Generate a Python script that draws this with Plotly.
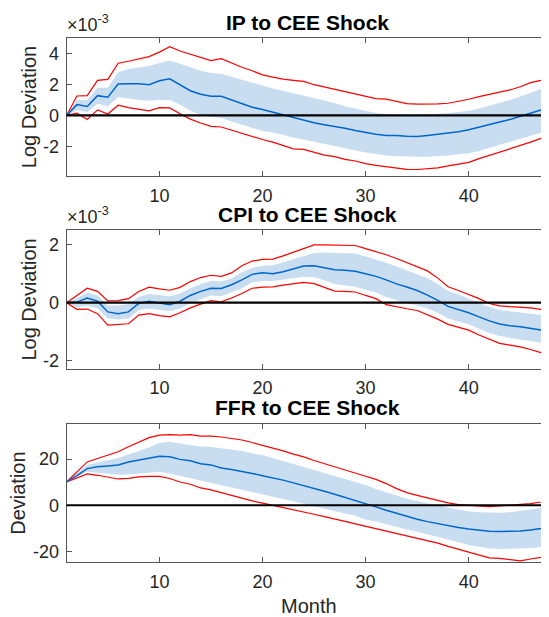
import plotly.graph_objects as go

months = list(range(1, 49))

# ---- IP to CEE shock (x 1e-3) ----
ip_med = [0, 0.7, 0.58, 1.28, 1.18, 2.03, 2.05, 2.05, 1.99, 2.25, 2.37, 1.97, 1.6, 1.37, 1.24, 1.24,
          1.0, 0.75, 0.53, 0.39, 0.21, 0.02, -0.15, -0.3, -0.47, -0.6, -0.7, -0.83, -0.98, -1.11, -1.22, -1.3,
          -1.3, -1.35, -1.37, -1.3, -1.22, -1.13, -1.05, -0.92, -0.77, -0.6, -0.43, -0.26, -0.06, 0.13, 0.36, 0.6]
ip_hi90 = [0, 1.26, 1.28, 2.27, 2.33, 3.38, 3.51, 3.66, 3.81, 4.1, 4.45, 4.17, 3.96, 3.72, 3.55, 3.68,
           3.38, 3.12, 2.89, 2.63, 2.48, 2.35, 2.27, 2.2, 1.99, 1.84, 1.69, 1.52, 1.39, 1.22, 1.09, 1.05,
           0.92, 0.77, 0.73, 0.73, 0.75, 0.79, 0.9, 1.05, 1.22, 1.37, 1.52, 1.65, 1.86, 2.12, 2.27, 2.46]
ip_lo90 = [0, 0.15, -0.26, 0.36, 0.09, 0.66, 0.51, 0.39, 0.3, 0.51, 0.49, 0.11, -0.24, -0.49, -0.71, -0.75,
           -0.96, -1.18, -1.37, -1.56, -1.73, -1.95, -2.16, -2.2, -2.4, -2.57, -2.67, -2.84, -2.95, -3.12, -3.23, -3.32,
           -3.42, -3.49, -3.5, -3.45, -3.4, -3.27, -3.14, -3.04, -2.8, -2.59, -2.37, -2.16, -1.95, -1.73, -1.48, -1.22]
ip_hi68 = [0, 1.0, 1.0, 1.8, 1.8, 2.8, 3.0, 3.1, 3.2, 3.4, 3.55, 3.35, 3.1, 2.9, 2.75, 2.7,
           2.5, 2.3, 2.1, 1.9, 1.75, 1.6, 1.45, 1.3, 1.1, 0.95, 0.8, 0.6, 0.45, 0.3, 0.15, 0.1,
           0.05, 0.03, 0.02, 0.05, 0.1, 0.15, 0.22, 0.3, 0.45, 0.62, 0.8, 1.0, 1.22, 1.48, 1.7, 1.95]
ip_lo68 = [0, 0.35, 0.2, 0.75, 0.6, 1.2, 1.1, 1.0, 0.95, 1.0, 1.0, 0.7, 0.3, 0.05, -0.1, -0.15,
           -0.4, -0.6, -0.8, -1.0, -1.1, -1.25, -1.45, -1.55, -1.7, -1.85, -1.95, -2.1, -2.25, -2.4, -2.5, -2.6,
           -2.65, -2.68, -2.68, -2.67, -2.65, -2.6, -2.52, -2.45, -2.3, -2.1, -1.9, -1.7, -1.5, -1.3, -1.1, -0.92]

# ---- CPI to CEE shock (x 1e-3) ----
cpi_med = [0, 0.02, 0.16, 0.05, -0.32, -0.38, -0.32, -0.03, 0.05, -0.01, -0.07, 0.05, 0.25, 0.39, 0.5, 0.49,
           0.62, 0.79, 0.98, 1.04, 1.0, 1.07, 1.17, 1.27, 1.28, 1.22, 1.14, 1.12, 1.09, 1.0, 0.91, 0.79,
           0.65, 0.54, 0.42, 0.26, 0.08, -0.13, -0.24, -0.35, -0.49, -0.63, -0.74, -0.8, -0.83, -0.89, -0.95, -0.98]
cpi_hi90 = [0, 0.25, 0.5, 0.39, 0.06, 0.07, 0.14, 0.39, 0.54, 0.48, 0.43, 0.53, 0.73, 0.87, 0.95, 0.91,
            1.03, 1.28, 1.44, 1.5, 1.51, 1.62, 1.74, 1.87, 2.0, 2.0, 1.99, 1.99, 1.98, 1.87, 1.77, 1.66,
            1.53, 1.39, 1.23, 1.1, 0.85, 0.55, 0.42, 0.29, 0.14, -0.03, -0.11, -0.14, -0.16, -0.18, -0.23, -0.25]
cpi_lo90 = [0, -0.23, -0.22, -0.38, -0.78, -0.75, -0.73, -0.43, -0.38, -0.45, -0.49, -0.35, -0.18, -0.05, 0.07, 0.03,
            0.16, 0.32, 0.5, 0.54, 0.55, 0.61, 0.65, 0.7, 0.66, 0.53, 0.4, 0.39, 0.37, 0.25, 0.14, -0.07,
            -0.15, -0.21, -0.27, -0.41, -0.57, -0.75, -0.86, -0.95, -1.12, -1.27, -1.41, -1.47, -1.53, -1.62, -1.73, -1.78]
cpi_hi68 = [0, 0.15, 0.35, 0.25, -0.1, -0.1, -0.05, 0.2, 0.3, 0.27, 0.22, 0.32, 0.5, 0.65, 0.75, 0.73,
            0.85, 1.05, 1.2, 1.28, 1.3, 1.4, 1.5, 1.6, 1.72, 1.74, 1.73, 1.72, 1.7, 1.6, 1.5, 1.38,
            1.25, 1.12, 1.0, 0.85, 0.65, 0.4, 0.28, 0.15, 0.0, -0.15, -0.25, -0.3, -0.35, -0.38, -0.42, -0.45]
cpi_lo68 = [0, -0.15, -0.1, -0.2, -0.55, -0.58, -0.55, -0.25, -0.2, -0.25, -0.3, -0.2, -0.02, 0.12, 0.25, 0.22,
            0.35, 0.5, 0.7, 0.75, 0.75, 0.8, 0.85, 0.9, 0.88, 0.78, 0.65, 0.6, 0.55, 0.45, 0.35, 0.2,
            0.08, -0.02, -0.1, -0.2, -0.35, -0.55, -0.65, -0.75, -0.9, -1.05, -1.15, -1.22, -1.28, -1.33, -1.4, -1.45]

# ---- FFR to CEE shock ----
ffr_med = [10.1, 12.8, 15.9, 16.7, 17.0, 17.5, 18.8, 19.6, 20.6, 21.3, 21.0, 19.9, 19.3, 18.0, 17.5, 16.2,
           15.5, 14.8, 13.8, 12.8, 11.9, 10.9, 9.7, 8.6, 7.4, 6.1, 4.8, 3.5, 2.2, 0.7, -0.7, -2.2,
           -3.6, -4.9, -6.1, -7.1, -8.0, -8.7, -9.6, -10.3, -10.9, -11.3, -11.4, -11.3, -11.2, -10.7, -10.1, -9.1]
ffr_hi90 = [10.1, 14.5, 18.8, 20.3, 21.7, 23.2, 25.4, 27.5, 29.3, 30.4, 30.6, 30.4, 30.6, 30.0, 30.0, 29.6,
            29.0, 28.3, 27.2, 26.1, 24.9, 23.6, 22.2, 21.0, 19.4, 18.1, 16.8, 15.5, 14.1, 12.6, 11.2, 9.4,
            7.2, 5.5, 4.3, 3.2, 1.9, 1.0, 0.3, 0.0, -0.3, -0.6, -0.3, 0.0, 0.3, 0.7, 1.4, 2.3]
ffr_lo90 = [10.1, 11.9, 13.6, 13.0, 12.2, 11.4, 11.7, 12.3, 12.5, 12.5, 11.6, 10.1, 9.1, 7.5, 6.7, 5.5,
            4.3, 2.9, 1.9, 0.9, 0.0, -0.9, -2.0, -3.0, -3.9, -4.9, -5.8, -7.0, -8.1, -9.1, -10.3, -11.3,
            -12.3, -13.2, -14.2, -15.2, -16.4, -17.8, -19.1, -20.3, -21.7, -22.8, -23.0, -23.5, -24.1, -23.3, -22.5, -22.0]
ffr_hi68 = [10.1, 13.7, 17.5, 18.5, 19.5, 20.5, 22.0, 23.5, 25.0, 27.0, 27.5, 26.8, 26.0, 25.5, 25.3, 24.8,
            24.0, 23.5, 22.5, 21.8, 20.5, 19.2, 18.0, 16.8, 15.5, 14.0, 12.8, 11.5, 10.0, 8.8, 7.0, 5.5,
            4.0, 2.8, 1.8, 0.8, -0.2, -1.0, -1.8, -2.6, -3.0, -3.3, -3.3, -3.0, -2.5, -1.8, -1.2, -0.6]
ffr_lo68 = [10.1, 12.5, 14.5, 14.0, 13.5, 13.2, 13.3, 13.8, 14.2, 14.5, 13.8, 12.8, 12.0, 10.8, 10.0, 9.0,
            8.0, 7.0, 6.0, 4.8, 4.0, 3.0, 1.8, 0.7, -0.5, -1.5, -2.5, -3.5, -4.5, -6.2, -7.0, -8.2,
            -9.5, -10.5, -11.5, -12.5, -13.5, -14.8, -16.0, -17.2, -18.0, -18.8, -19.0, -19.0, -18.8, -18.5, -18.3, -18.0]

titles = ["IP to CEE Shock", "CPI to CEE Shock", "FFR to CEE Shock"]
ylabels = ["Log Deviation", "Log Deviation", "Deviation"]
x_ticks = [10, 20, 30, 40]
y_ticks = [[-2, 0, 2, 4], [-2, 0, 2], [-20, 0, 20]]
y_ticktext = [["-2", "0", "2", "4"], ["-2", "0", "2"], ["-20", "0", "20"]]
y_ranges = [[-3.93, 5.0], [-2.29, 2.5], [-24.6, 35.4]]

panels = [
    (ip_med, ip_hi90, ip_lo90, ip_hi68, ip_lo68),
    (cpi_med, cpi_hi90, cpi_lo90, cpi_hi68, cpi_lo68),
    (ffr_med, ffr_hi90, ffr_lo90, ffr_hi68, ffr_lo68),
]

# page body has an 8px default margin; the figure is sized to fill the rest of the window
OFF = 8
W, H = 549 - OFF, 617 - OFF


def py(v):  # window pixel y -> paper fraction
    return 1 - (v - OFF) / H


def px(v):  # window pixel x -> paper fraction
    return (v - OFF) / W


boxes = [(38.3, 176.7), (231.2, 370.0), (425.0, 563.8)]
left_px = 66.7

FONT = "Liberation Sans, Arial, sans-serif"
TXT = "#262626"
BAND = "#C8DEF0"
RED = "#FF0000"
BLUE = "#0066CC"

fig = go.Figure()
annotations = []
shapes = []
layout_axes = {}

for i, (med, hi90, lo90, hi68, lo68) in enumerate(panels):
    n = "" if i == 0 else str(i + 1)
    xa, ya = "x" + n, "y" + n
    fig.add_trace(go.Scatter(x=months, y=lo68, xaxis=xa, yaxis=ya, mode="lines",
                             line=dict(width=0, color=BAND), showlegend=False, hoverinfo="skip"))
    fig.add_trace(go.Scatter(x=months, y=hi68, xaxis=xa, yaxis=ya, mode="lines", fill="tonexty",
                             fillcolor=BAND, line=dict(width=0, color=BAND), showlegend=False, hoverinfo="skip"))
    fig.add_trace(go.Scatter(x=months, y=hi90, xaxis=xa, yaxis=ya, mode="lines",
                             line=dict(width=1.2, color=RED), showlegend=False))
    fig.add_trace(go.Scatter(x=months, y=lo90, xaxis=xa, yaxis=ya, mode="lines",
                             line=dict(width=1.2, color=RED), showlegend=False))
    fig.add_trace(go.Scatter(x=months, y=med, xaxis=xa, yaxis=ya, mode="lines",
                             line=dict(width=1.5, color=BLUE), showlegend=False))

    top, bot = boxes[i]
    axis_common = dict(showline=True, linecolor="#555555", linewidth=1, mirror="ticks",
                       ticks="inside", ticklen=5, tickcolor="#555555", showgrid=False, zeroline=False,
                       tickfont=dict(family=FONT, size=18, color=TXT))
    layout_axes["xaxis" + n] = dict(axis_common, domain=[px(left_px), 1.0], range=[1, 47.69],
                                    tickvals=x_ticks, anchor=ya, ticklabelstandoff=3)
    layout_axes["yaxis" + n] = dict(axis_common, domain=[py(bot), py(top)], range=y_ranges[i],
                                    tickvals=y_ticks[i], ticktext=y_ticktext[i], anchor=xa,
                                    ticklabelstandoff=3)

    shapes.append(dict(type="line", xref=xa + " domain", yref=ya, x0=0, x1=1, y0=0, y1=0,
                       line=dict(color="black", width=2.2), layer="above"))

    title_y = [23.0, 215.5, 408.5][i]
    annotations.append(dict(text="<b>" + titles[i] + "</b>", xref="paper", yref="paper",
                            x=px(308), y=py(title_y), xanchor="center", yanchor="middle",
                            showarrow=False, font=dict(family=FONT, size=21, color="black")))
    ylab_x = [29, 29, 18][i]
    annotations.append(dict(text=ylabels[i], xref="paper", yref="paper", textangle=-90,
                            x=px(ylab_x), y=py((top + bot) / 2), xanchor="center", yanchor="middle",
                            showarrow=False, font=dict(family=FONT, size=20, color=TXT)))
    if i < 2:
        annotations.append(dict(text="×10<sup>-3</sup>", xref="paper", yref="paper",
                                x=px(65), y=py(top - 1), xanchor="left", yanchor="bottom",
                                showarrow=False, font=dict(family=FONT, size=18, color=TXT)))

annotations.append(dict(text="Month", xref="paper", yref="paper", x=px(310), y=py(607.5),
                        xanchor="center", yanchor="middle", showarrow=False,
                        font=dict(family=FONT, size=20, color=TXT)))

fig.update_layout(width=W, height=H, margin=dict(l=0, r=0, t=0, b=0),
                  paper_bgcolor="white", plot_bgcolor="white",
                  annotations=annotations, shapes=shapes, **layout_axes)

fig.write_html("out.html")
